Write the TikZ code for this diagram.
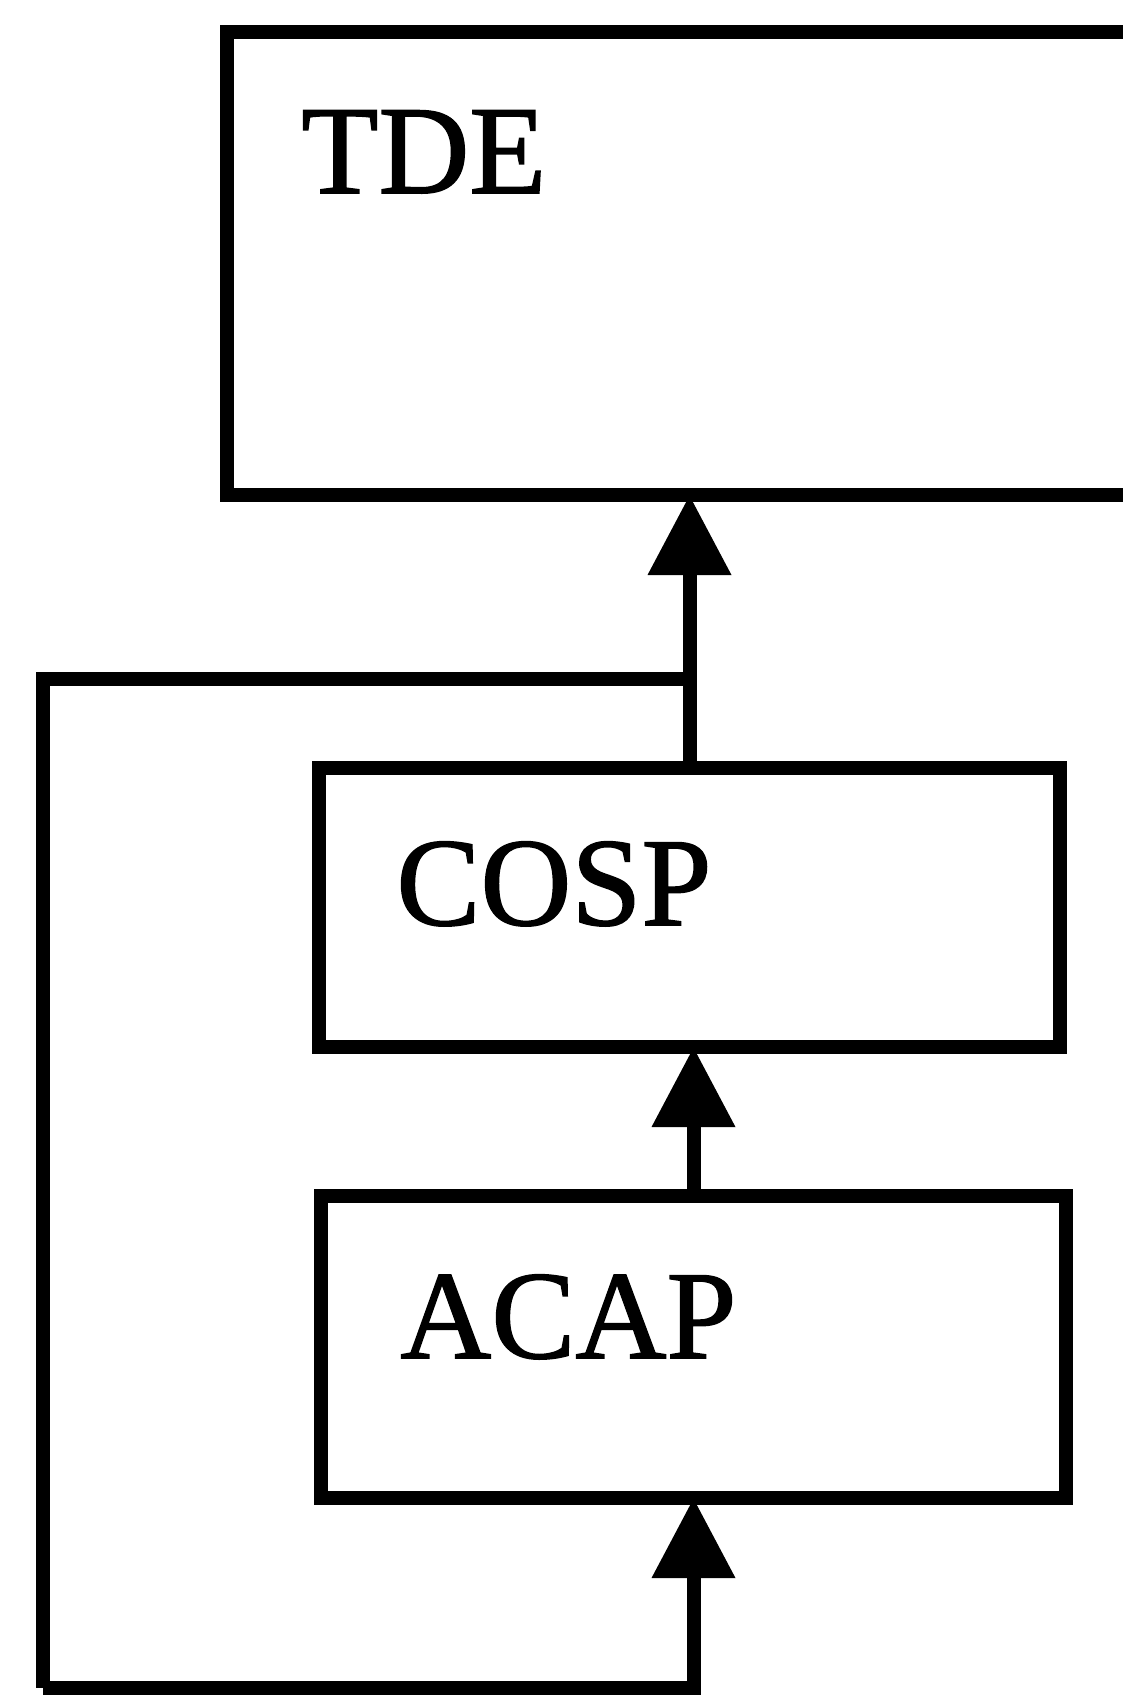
\documentclass[tikz,border=0pt]{standalone}
\usepackage{fontspec}
\setmainfont{Liberation Serif}
\newfontfamily\lblfont[FakeBold=1.2]{Liberation Serif}
\usetikzlibrary{arrows.meta}
\begin{document}
\begin{tikzpicture}[x=0.5pt,y=-0.5pt,
  boxstyle/.style={draw=black,line width=7pt,inner sep=0pt,outer sep=0pt,rectangle},
  lbl/.style={anchor=base west,inner sep=0pt,font=\lblfont\fontsize{63}{72}\selectfont},
  conn/.style={draw=black,line width=7pt},
  arr/.style={conn,-{Triangle[width=40pt,length=40pt]}}]
\fill[white] (0,0) rectangle (1123,1696);
\useasboundingbox (0,0) rectangle (1123,1696);
\clip (0,0) rectangle (1123,1696);
\node[boxstyle,minimum width=486.5pt,minimum height=231.5pt] (tde) at (713.5,263.5) {};
\node[boxstyle,minimum width=370.5pt,minimum height=139.5pt] (cosp) at (689.5,907.5) {};
\node[boxstyle,minimum width=372.5pt,minimum height=151pt] (acap) at (693.5,1347) {};
\node[lbl] (tdel) at (301,193) {TDE};
\node[lbl] (cospl) at (396,925) {COSP};
\node[lbl] (acapl) at (400,1358) {ACAP};
\coordinate (j) at (689.5,679);
\coordinate (lt) at (43,679);
\coordinate (lb) at (43,1688);
\draw[arr] (cosp.north) -- (cosp.north |- tde.south);
\draw[arr] (acap.north) -- (acap.north |- cosp.south);
\draw[conn] (j) -- (lt) -- (lb);
\draw[arr] (lb) -| (acap.south);
\end{tikzpicture}
\end{document}
